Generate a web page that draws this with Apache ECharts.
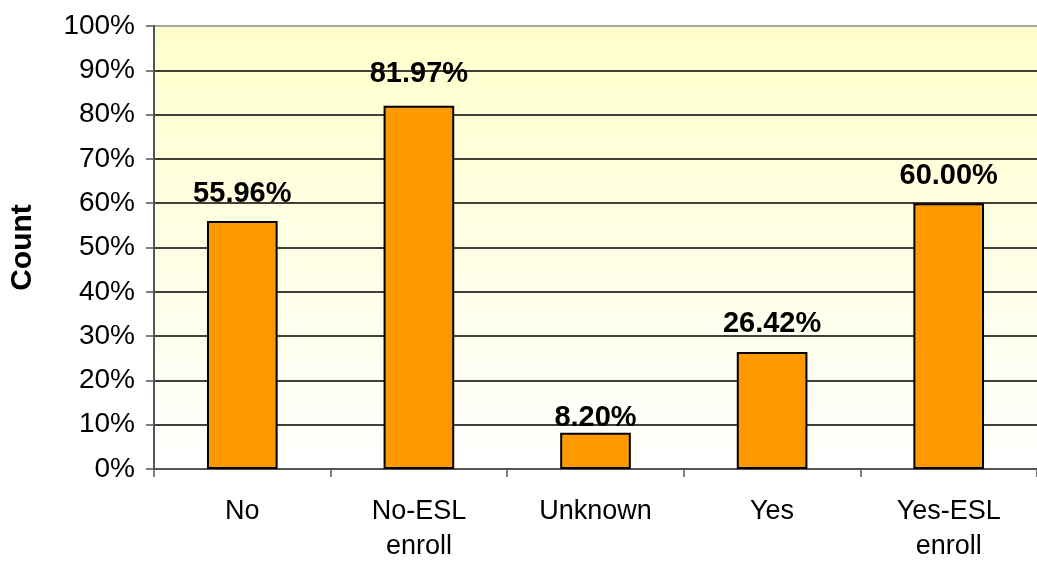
<!DOCTYPE html>
<html>
<head>
<meta charset="utf-8">
<script src="https://cdn.jsdelivr.net/npm/echarts@6/dist/echarts.min.js"></script>
<style>html,body{margin:0;padding:0;background:#fff}#c{width:1037px;height:564px}</style>
</head>
<body>
<div id="c"></div>
<script>
var categories = ['No', 'No-ESL\nenroll', 'Unknown', 'Yes', 'Yes-ESL\nenroll'];
var values = [55.96, 81.97, 8.20, 26.42, 60.00];
var labelTexts = ['55.96%', '81.97%', '8.20%', '26.42%', '60.00%'];
var labelGaps = [13, 17, 0, 13, 13];
var yTicks = [0, 10, 20, 30, 40, 50, 60, 70, 80, 90, 100];

var chart = echarts.init(document.getElementById('c'), null, {renderer: 'canvas'});
var splitColors = yTicks.map(function (t) { return t === 100 ? '#8a8a8a' : '#000'; });
chart.setOption({
  animation: false,
  textStyle: {fontFamily: 'Liberation Sans, Arial, sans-serif'},
  grid: {
    left: 150, right: -4, top: 26, bottom: 94,
    show: true,
    borderWidth: 0,
    backgroundColor: {
      type: 'linear', x: 0, y: 0, x2: 0, y2: 1,
      colorStops: [{offset: 0, color: '#FFFFCC'}, {offset: 1, color: '#FFFFFF'}]
    }
  },
  xAxis: {
    type: 'category',
    data: categories,
    axisLine: {lineStyle: {color: '#555', width: 2}},
    axisTick: {show: true, length: 8, lineStyle: {color: '#555', width: 1.5}},
    axisLabel: {fontSize: 27, color: '#000', margin: 25, lineHeight: 35}
  },
  yAxis: {
    type: 'value',
    min: 0, max: 100, interval: 10,
    name: 'Count',
    nameLocation: 'middle',
    nameGap: 116,
    nameRotate: 90,
    nameTextStyle: {fontSize: 30, fontWeight: 'bold', color: '#000'},
    axisLine: {show: true, lineStyle: {color: '#555', width: 2}},
    axisTick: {show: true, length: 8, lineStyle: {color: '#555', width: 1.5}},
    axisLabel: {fontSize: 28, color: '#000', margin: 19, formatter: '{value}%'},
    splitLine: {show: true, lineStyle: {color: splitColors, width: 1.5}}
  },
  series: [{
    type: 'bar',
    barWidth: '40%',
    data: values.map(function (v, i) {
      return {value: v, label: {distance: labelGaps[i]}};
    }),
    itemStyle: {color: '#FF9900', borderColor: '#000', borderWidth: 2},
    label: {
      show: true, position: 'top',
      fontSize: 29, fontWeight: 'bold', color: '#000',
      formatter: function (p) { return labelTexts[p.dataIndex]; }
    }
  }]
});
</script>
</body>
</html>
